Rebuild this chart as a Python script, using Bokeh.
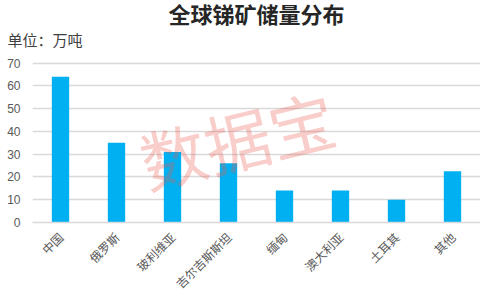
import math
from bokeh.plotting import figure
from bokeh.models import ColumnDataSource, Title, Label, FactorRange, Range1d
from bokeh.embed import file_html
from bokeh.resources import INLINE

categories = ["中国", "俄罗斯", "玻利维亚", "吉尔吉斯斯坦", "缅甸", "澳大利亚", "土耳其", "其他"]
reserves = [64, 35, 31, 26, 14, 14, 10, 22.5]
y_ticks = [0, 10, 20, 30, 40, 50, 60, 70]

CJK = "Noto Sans CJK SC"
TFONT = "Liberation Sans, Noto Sans CJK SC"
GREY = "#595959"

src = ColumnDataSource(dict(cat=categories, val=reserves))

p = figure(width=480, height=300, output_backend="svg", toolbar_location=None,
           x_range=FactorRange(factors=categories, range_padding=0),
           y_range=Range1d(0, 75.5),
           min_border_left=32, min_border_right=0, min_border_bottom=73, min_border_top=0)

p.title = Title(text="全球锑矿储量分布", align="center", text_font=TFONT,
                text_font_size="22px", text_font_style="bold", text_color="#262626",
                standoff=0)
p.add_layout(Title(text="单位：万吨", align="left", offset=-25, text_font=TFONT,
                   text_font_size="15px", text_font_style="normal", text_color="#404040",
                   standoff=4), "above")

p.vbar(x="cat", top="val", width=0.31, source=src, color="#00b0f0", line_color=None)

wm = Label(x=3.65, y=37.1, text="数据宝", text_font=CJK, text_font_size="66px",
           text_color="#e8584f", text_alpha=0.3, text_align="center",
           text_baseline="middle", angle=0.24)
p.add_layout(wm)

p.outline_line_color = None
p.background_fill_color = "white"
p.border_fill_color = "white"

p.xgrid.grid_line_color = None
p.ygrid.grid_line_color = "#d9d9d9"
p.ygrid.grid_line_width = 1.5
p.yaxis.ticker = y_ticks

p.yaxis.axis_line_color = None
p.yaxis.major_tick_line_color = None
p.yaxis.minor_tick_line_color = None
p.yaxis.major_label_standoff = 6
p.yaxis.major_label_text_font = "Liberation Sans"
p.yaxis.major_label_text_font_size = "12px"
p.yaxis.major_label_text_color = GREY

p.xaxis.axis_line_color = "#d9d9d9"
p.xaxis.axis_line_width = 1.5
p.xaxis.major_tick_line_color = None
p.xaxis.minor_tick_line_color = None
p.xaxis.major_label_orientation = math.pi / 4
p.xaxis.major_label_standoff = 6
p.xaxis.major_label_text_font = CJK
p.xaxis.major_label_text_font_size = "12px"
p.xaxis.major_label_text_color = GREY

open("out.html", "w").write(file_html(p, INLINE))
